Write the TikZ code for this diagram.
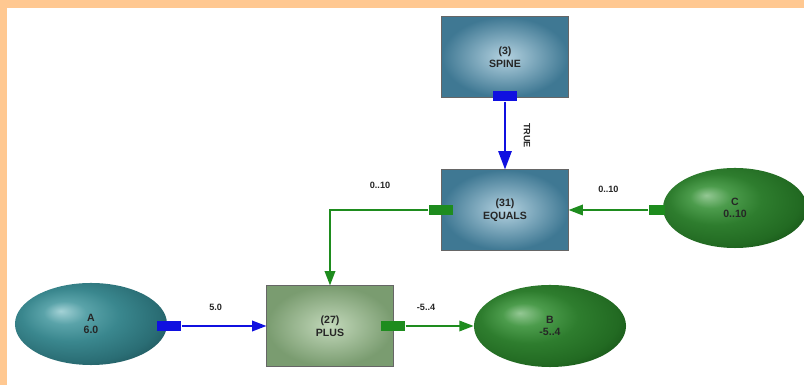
\documentclass[tikz,border=0pt]{standalone}
\usepackage{fontspec}
\setmainfont{Liberation Sans}
\usetikzlibrary{positioning,shapes.geometric,arrows.meta}
\definecolor{peach}{HTML}{FFC891}
\definecolor{steelin}{HTML}{B4D2E0}
\definecolor{steelout}{HTML}{3F7893}
\definecolor{sagein}{HTML}{C2D8BA}
\definecolor{sageout}{HTML}{7A9C70}
\definecolor{wireblue}{HTML}{1010E0}
\definecolor{wiregreen}{HTML}{1E8C1E}
\definecolor{tealA}{HTML}{A4D2D6}
\definecolor{tealB}{HTML}{5AA3A9}
\definecolor{tealC}{HTML}{3A878E}
\definecolor{tealD}{HTML}{2A6D74}
\definecolor{tealE}{HTML}{1A4A50}
\definecolor{grnA}{HTML}{94C894}
\definecolor{grnB}{HTML}{4C9C4C}
\definecolor{grnC}{HTML}{2E7D2E}
\definecolor{grnD}{HTML}{226A22}
\definecolor{grnE}{HTML}{124812}
\pgfdeclareradialshading{tealvar}{\pgfpoint{-10bp}{8bp}}{%
  color(0bp)=(tealA); color(7bp)=(tealB); color(16bp)=(tealC);
  color(27bp)=(tealD); color(36bp)=(tealE); color(50bp)=(tealE)}
\pgfdeclareradialshading{greenvar}{\pgfpoint{-10bp}{8bp}}{%
  color(0bp)=(grnA); color(7bp)=(grnB); color(16bp)=(grnC);
  color(27bp)=(grnD); color(36bp)=(grnE); color(50bp)=(grnE)}

\begin{document}
\begin{tikzpicture}[x=0.025cm,y=-0.025cm,
  every node/.style={font=\fontsize{7.5}{9}\selectfont\bfseries, text=black!85},
  opbox/.style={rectangle, align=center, inner sep=0pt, minimum width=3.15cm,
    minimum height=2cm, draw=black!60, line width=0.7pt},
  bluebox/.style={opbox, inner color=steelin, outer color=steelout},
  greenbox/.style={opbox, inner color=sagein, outer color=sageout},
  varnode/.style={ellipse, align=center, inner sep=0pt, minimum width=3.8cm,
    minimum height=2.05cm},
  port/.style={rectangle, inner sep=0pt, minimum width=0.62cm, minimum height=0.27cm},
  wire/.style={line width=1.5pt, -{Triangle[length=3.6mm,width=2.6mm]}},
  lbl/.style={font=\fontsize{6.5}{8}\selectfont\bfseries}
]
\useasboundingbox (0,0) rectangle (804,385);
\fill[white] (0,0) rectangle (804,385);
\fill[peach] (0,0) rectangle (804,8);
\fill[peach] (0,0) rectangle (7,385);

% operators
\node[bluebox] (spine) at (505,57) {(3)\\SPINE};
\node[bluebox] (equals) at (505,210) {(31)\\EQUALS};
\node[greenbox] (plus) at (330,326) {(27)\\PLUS};

% variables
\node[varnode, shading=tealvar] (A) at (91,324) {A\\6.0};
\node[varnode, shading=greenvar] (B) at (550,326) {B\\-5..4};
\node[varnode, shading=greenvar, minimum width=3.6cm, minimum height=2cm] (C) at (735,208) {C\\0..10};

% ports
\node[port, fill=wireblue] (spineport) at (505,96) {};
\node[port, fill=wiregreen] (equalsport) at (441,210) {};
\node[port, fill=wiregreen, minimum width=0.42cm] (Cport) at (657,210) {};
\node[port, fill=wireblue] (Aport) at (169,326) {};
\node[port, fill=wiregreen] (plusport) at (393,326) {};

% connectors
\draw[wire, wireblue, -{Triangle[length=4.6mm,width=3.3mm]}] (spineport.south) -- (equals.north)
  node[lbl, midway, xshift=0.55cm, rotate=-90] {TRUE};
\draw[wire, wiregreen] (equalsport.west) -| (plus.north);
\node[lbl] (eqlbl) at (380,185) {0..10};
\draw[wire, wiregreen] (Cport.west) -- (equals.east)
  node[lbl, midway, above=8pt] {0..10};
\draw[wire, wireblue] (Aport.east) -- (plus.west)
  node[lbl, pos=0.4, above=7pt] {5.0};
\draw[wire, wiregreen] (plusport.east) -- (B.west)
  node[lbl, pos=0.3, above=7pt] {-5..4};
\end{tikzpicture}
\end{document}
